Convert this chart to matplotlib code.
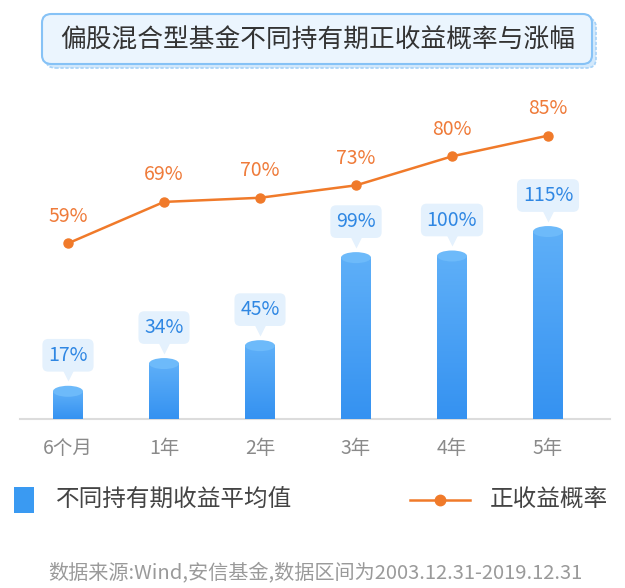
"""Cylinder bar + line chart: positive-return probability and gain by holding period."""
import matplotlib
matplotlib.use("Agg")
import matplotlib.pyplot as plt
import matplotlib.transforms as mtransforms
from matplotlib.patches import Ellipse, FancyBboxPatch, Rectangle
import numpy as np

plt.rcParams["font.family"] = ["Noto Sans CJK SC", "DejaVu Sans"]

periods = ["6个月", "1年", "2年", "3年", "4年", "5年"]
avg_gain = [17, 34, 45, 99, 100, 115]        # 不同持有期收益平均值 (%)
pos_prob = [59, 69, 70, 73, 80, 85]          # 正收益概率 (%)

TITLE = "偏股混合型基金不同持有期正收益概率与涨幅"
SOURCE = "数据来源:Wind,安信基金,数据区间为2003.12.31-2019.12.31"

W, H = 625, 588
BLUE = "#3a9af2"
BLUE_TOP = "#6dbafa"
BLUE_TXT = "#2f87e3"
BOX = "#e4f1fd"
ORANGE = "#f07a2a"
GRAY = "#8a8a8a"

fig = plt.figure(figsize=(W / 100, H / 100), dpi=100)


def fx(px):
    return px / W


def fy(py):
    return 1 - py / H


# title box with offset "shadow" layer
fig.patches.append(FancyBboxPatch((fx(46), fy(68)), fx(550), 50 / H,
                                  boxstyle="round,pad=0,rounding_size=0.015",
                                  transform=fig.transFigure, fc="#d3e9fc",
                                  ec="#a6d2f8", lw=1.2, ls=(0, (2, 1))))
fig.patches.append(FancyBboxPatch((fx(42), fy(64)), fx(550), 50 / H,
                                  boxstyle="round,pad=0,rounding_size=0.015",
                                  transform=fig.transFigure, fc="#ebf5fe",
                                  ec="#86c2f6", lw=1.5))
fig.text(fx(318), fy(41), TITLE, ha="center", va="center", fontsize=18.5,
         color="#333333")

# main axes: baseline at y=419px, top at 100px
ax = fig.add_axes([fx(20), fy(419), fx(576), 319 / H])
ax.set_xlim(-0.5, 5.5)
ax.set_ylim(0, 319 / 1.63)
ax.axis("off")

x = np.arange(len(periods))
bw = 30 / 96
eh = 11 / 1.63
cmap = matplotlib.colors.LinearSegmentedColormap.from_list(
    "g", ["#3592f1", "#5eaff8"])

for xi, v in zip(x, avg_gain):
    body = Rectangle((xi - bw / 2, 0), bw, v, fc=BLUE, ec="none", zorder=2)
    ax.add_patch(body)
    grad = np.linspace(0, 1, 64).reshape(-1, 1)
    ax.imshow(grad, extent=(xi - bw / 2, xi + bw / 2, 0, v), origin="lower",
              cmap=cmap, aspect="auto", zorder=2, clip_path=body)
    ax.add_patch(Ellipse((xi, 0), bw, eh, fc="#3592f1", ec="none", zorder=1.9))
    ax.add_patch(Ellipse((xi, v), bw, eh, fc=BLUE_TOP, ec="none", zorder=3))

# baseline
ax.plot([-0.5, 5.65], [0, 0], color="#dcdcdc", lw=1.5, zorder=1,
        clip_on=False)

# value labels on bars (box + small pointer)
for xi, v in zip(x, avg_gain):
    tri = mtransforms.offset_copy(ax.transData, fig=fig, x=0, y=16,
                                  units="dots")
    ax.plot(xi, v, marker="v", ms=9, color=BOX, mec="none",
            transform=tri, zorder=4)
    ax.annotate(f"{v}%", (xi, v), xytext=(0, 36), textcoords="offset pixels",
                ha="center", va="center", fontsize=14, color=BLUE_TXT,
                bbox=dict(boxstyle="round,pad=0.3,rounding_size=0.3",
                          fc=BOX, ec="none"), zorder=5)

# tick labels
for xi, lab in zip(x, periods):
    ax.annotate(lab, (xi, 0), xytext=(0, -30), textcoords="offset pixels",
                ha="center", va="center", fontsize=14, color=GRAY)

# line on its own scale
ax2 = fig.add_axes(ax.get_position())
ax2.set_xlim(-0.5, 5.5)
ax2.set_ylim(16.6, 93.6)
ax2.axis("off")
ax2.plot(x, pos_prob, color=ORANGE, lw=1.8, marker="o", ms=6.5, zorder=6)
for xi, p in zip(x, pos_prob):
    ax2.annotate(f"{p}%", (xi, p), xytext=(0, 27), textcoords="offset pixels",
                 ha="center", va="center", fontsize=14, color="#ef7b3a")

# legend
fig.patches.append(Rectangle((fx(14), fy(513)), fx(20), 26 / H,
                             transform=fig.transFigure, fc=BLUE, ec="none"))
fig.text(fx(56), fy(500), "不同持有期收益平均值", ha="left", va="center",
         fontsize=17, color="#444444")
fig.add_artist(plt.Line2D([fx(410), fx(470)], [fy(500), fy(500)],
                          transform=fig.transFigure, color=ORANGE, lw=1.8))
fig.add_artist(plt.Line2D([fx(440)], [fy(500)], transform=fig.transFigure,
                          marker="o", ms=7.5, color=ORANGE))
fig.text(fx(490), fy(500), "正收益概率", ha="left", va="center",
         fontsize=17, color="#444444")

fig.text(fx(315), fy(573), SOURCE, ha="center", va="center", fontsize=14.5,
         color="#9a9a9a")

fig.savefig("out.png", dpi=100)
